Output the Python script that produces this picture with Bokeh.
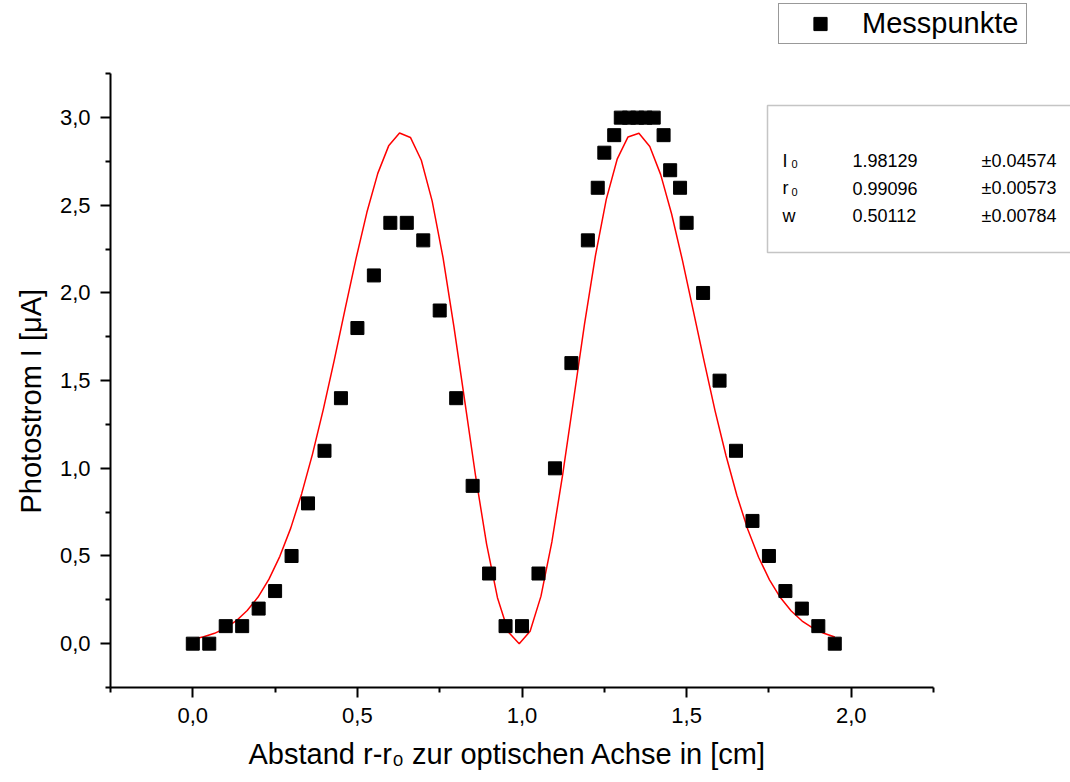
from bokeh.plotting import figure
from bokeh.models import (Range1d, FixedTicker, CustomJSTickFormatter, Label,
                          BoxAnnotation, Legend, LegendItem, Title)
from bokeh.embed import file_html
from bokeh.resources import INLINE

# ---------------- data ----------------
r_mess = [0.0, 0.05, 0.1, 0.15, 0.2, 0.25, 0.3, 0.35, 0.4, 0.45, 0.5, 0.55, 0.6,
          0.65, 0.7, 0.75, 0.8, 0.85, 0.9, 0.95, 1.0, 1.05, 1.1, 1.15, 1.2, 1.23,
          1.25, 1.28, 1.3, 1.325, 1.35, 1.375, 1.4, 1.43, 1.45, 1.48, 1.5, 1.55,
          1.6, 1.65, 1.7, 1.75, 1.8, 1.85, 1.9, 1.95]
i_mess = [0.0, 0.0, 0.1, 0.1, 0.2, 0.3, 0.5, 0.8, 1.1, 1.4, 1.8, 2.1, 2.4,
          2.4, 2.3, 1.9, 1.4, 0.9, 0.4, 0.1, 0.1, 0.4, 1.0, 1.6, 2.3, 2.6,
          2.8, 2.9, 3.0, 3.0, 3.0, 3.0, 3.0, 2.9, 2.7, 2.6, 2.4, 2.0,
          1.5, 1.1, 0.7, 0.5, 0.3, 0.2, 0.1, 0.0]

fit_x = [0.0, 0.0331, 0.0661, 0.0992, 0.1322, 0.1653, 0.1983, 0.2314, 0.2644, 0.2975,
         0.3305, 0.3636, 0.3966, 0.4297, 0.4627, 0.4958, 0.5288, 0.5619, 0.5949, 0.6280,
         0.6610, 0.6941, 0.7271, 0.7602, 0.7932, 0.8263, 0.8593, 0.8924, 0.9254, 0.9585,
         0.9915, 1.0246, 1.0576, 1.0907, 1.1237, 1.1568, 1.1898, 1.2229, 1.2559, 1.2890,
         1.3220, 1.3551, 1.3881, 1.4212, 1.4542, 1.4873, 1.5203, 1.5534, 1.5864, 1.6195,
         1.6525, 1.6856, 1.7186, 1.7517, 1.7847, 1.8178, 1.8508, 1.8839, 1.9169, 1.9500]
fit_y = [0.025, 0.039, 0.059, 0.089, 0.131, 0.189, 0.266, 0.368, 0.498, 0.659,
         0.854, 1.081, 1.338, 1.617, 1.909, 2.196, 2.460, 2.682, 2.839, 2.912,
         2.887, 2.757, 2.524, 2.200, 1.807, 1.380, 0.952, 0.568, 0.262, 0.066,
         0.000, 0.071, 0.271, 0.580, 0.967, 1.394, 1.822, 2.212, 2.534, 2.763,
         2.890, 2.911, 2.835, 2.675, 2.452, 2.186, 1.898, 1.608, 1.328, 1.073,
         0.846, 0.653, 0.493, 0.364, 0.263, 0.186, 0.129, 0.088, 0.059, 0.038]

x_major = [0.0, 0.5, 1.0, 1.5, 2.0]
x_minor = [-0.25, 0.25, 0.75, 1.25, 1.75, 2.25]
y_major = [0.0, 0.5, 1.0, 1.5, 2.0, 2.5, 3.0]
y_minor = [-0.25, 0.25, 0.75, 1.25, 1.75, 2.25, 2.75, 3.25]

par_names = ["I", "r", "w"]
par_subs = ["0", "0", ""]
par_values = ["1.98129", "0.99096", "0.50112"]
par_errors = ["±0.04574", "±0.00573", "±0.00784"]

legend_label = "Messpunkte"
x_title = "Abstand r-r\u2080 zur optischen Achse in [cm]"
y_title = "Photostrom I [\u03bcA]"

FONT = "Liberation Sans"

# ---------------- figure ----------------
# the frame reaches the top and right canvas edges so that the legend and the
# fit-parameter box (which overhang the axes in the original) are not clipped;
# the axes themselves are limited with bounds.
p = figure(width=1070, height=782, output_backend="svg", toolbar_location=None,
           x_range=Range1d(-0.25, 2.666), y_range=Range1d(-0.25, 3.668),
           min_border_left=110, min_border_right=0,
           min_border_top=0, min_border_bottom=95)
p.outline_line_color = None
p.xgrid.visible = False
p.ygrid.visible = False
p.background_fill_color = "white"
p.border_fill_color = "white"

fmt = CustomJSTickFormatter(code="return tick.toFixed(1).replace('.', ',');")
p.xaxis[0].ticker = FixedTicker(ticks=x_major, minor_ticks=x_minor)
p.yaxis[0].ticker = FixedTicker(ticks=y_major, minor_ticks=y_minor)
p.xaxis[0].bounds = (-0.25, 2.25)
p.yaxis[0].bounds = (-0.25, 3.25)
for ax in (p.xaxis[0], p.yaxis[0]):
    ax.formatter = fmt
    ax.axis_line_width = 2
    ax.axis_line_color = "black"
    ax.major_tick_line_width = 2
    ax.minor_tick_line_width = 2
    ax.major_tick_line_color = "black"
    ax.minor_tick_line_color = "black"
    ax.major_tick_out = 10
    ax.major_tick_in = 0
    ax.minor_tick_out = 5
    ax.minor_tick_in = 0
    ax.major_label_text_font = FONT
    ax.major_label_text_font_size = "22px"
    ax.major_label_text_color = "black"
    ax.major_label_standoff = 10

# axis titles as side-panel titles (positioned like the original)
p.add_layout(Title(text=x_title, align="left", offset=138, standoff=20,
                   text_font=FONT, text_font_size="29px", text_font_style="normal",
                   text_color="black"), "below")
p.add_layout(Title(text=y_title, align="left", offset=174, standoff=19,
                   text_font=FONT, text_font_size="29px", text_font_style="normal",
                   text_color="black"), "left")

line = p.line(fit_x, fit_y, line_color="red", line_width=1.5)
pts = p.scatter(r_mess, i_mess, marker="square", size=13,
                fill_color="black", line_color="black")

legend = Legend(items=[LegendItem(label=legend_label, renderers=[pts])],
                location=(668, 643), orientation="vertical",
                padding=3, spacing=0, margin=0,
                glyph_width=76, glyph_height=33, label_standoff=4,
                label_width=161, label_height=33,
                label_text_font=FONT, label_text_font_size="29px",
                label_text_color="black",
                border_line_color="#333333", border_line_width=1.5,
                background_fill_color="white", background_fill_alpha=1.0)
p.add_layout(legend)

# fit parameter box
p.add_layout(BoxAnnotation(left=767, right=1090, top=105, bottom=252,
                           left_units="canvas", right_units="canvas",
                           top_units="canvas", bottom_units="canvas",
                           fill_color="white", fill_alpha=1.0,
                           line_color="#404040", line_width=1.5))
row_base = [160, 187.5, 215]
for k in range(3):
    yb = row_base[k]
    p.add_layout(Label(x=782, y=yb, x_units="canvas", y_units="canvas",
                       text=par_names[k], text_font=FONT, text_font_size="18px",
                       text_baseline="alphabetic", text_align="left", text_color="black"))
    if par_subs[k]:
        p.add_layout(Label(x=791, y=yb + 3.5, x_units="canvas", y_units="canvas",
                           text=par_subs[k], text_font=FONT, text_font_size="11px",
                           text_baseline="alphabetic", text_align="left", text_color="black"))
    p.add_layout(Label(x=852, y=yb, x_units="canvas", y_units="canvas",
                       text=par_values[k], text_font=FONT, text_font_size="18px",
                       text_baseline="alphabetic", text_align="left", text_color="black"))
    p.add_layout(Label(x=981, y=yb, x_units="canvas", y_units="canvas",
                       text=par_errors[k], text_font=FONT, text_font_size="18px",
                       text_baseline="alphabetic", text_align="left", text_color="black"))

open("out.html", "w").write(file_html(p, INLINE))
